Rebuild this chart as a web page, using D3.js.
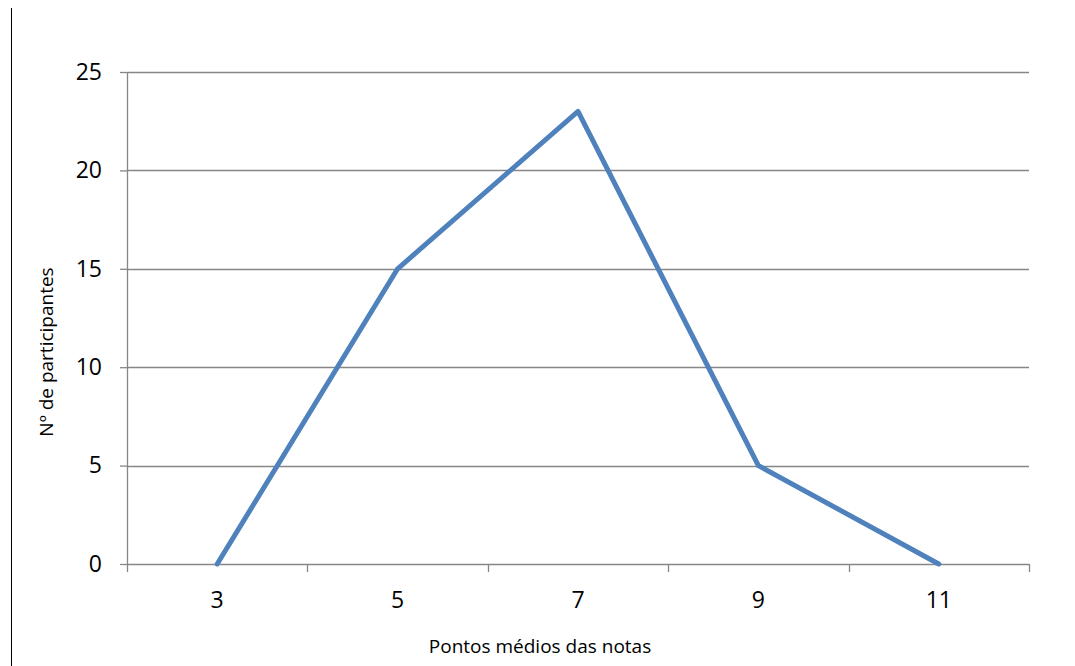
<!DOCTYPE html>
<html>
<head>
<meta charset="utf-8">
<script src="https://cdn.jsdelivr.net/npm/d3@7"></script>
<style>
  html, body { margin: 0; padding: 0; background: #fff; }
  svg { display: block; }
  text { font-family: "Open Sans", "Liberation Sans", sans-serif; fill: #000; }
</style>
</head>
<body>
<div id="chart"></div>
<script>
// Frequency of grade midpoints
const midpoints = ["3", "5", "7", "9", "11"];
const participants = [0, 15, 23, 5, 0];
const yTicks = [0, 5, 10, 15, 20, 25];

const W = 1075, H = 666;
const margin = { left: 127, right: 46, top: 72, bottom: 102 };
const innerW = W - margin.left - margin.right;
const innerH = H - margin.top - margin.bottom;

const svg = d3.select("#chart").append("svg")
  .attr("width", W).attr("height", H);

// Frame line on the left edge
svg.append("line")
  .attr("x1", 11.5).attr("x2", 11.5)
  .attr("y1", 8).attr("y2", H)
  .attr("stroke", "#000").attr("stroke-width", 1);

const g = svg.append("g").attr("transform", `translate(${margin.left},${margin.top})`);

const x = d3.scaleBand().domain(midpoints).range([0, innerW]).paddingInner(0).paddingOuter(0);
const y = d3.scaleLinear().domain([0, 25]).range([innerH, 0]);

const gridColor = "#868686";

// Horizontal gridlines
g.append("g").selectAll("line")
  .data(yTicks.filter(d => d > 0))
  .join("line")
  .attr("x1", 0).attr("x2", innerW)
  .attr("y1", d => Math.round(y(d)) + 0.5).attr("y2", d => Math.round(y(d)) + 0.5)
  .attr("stroke", gridColor).attr("stroke-width", 1.3);

// Y axis
const yAxis = g.append("g")
  .call(d3.axisLeft(y).tickValues(yTicks).tickSize(7).tickPadding(18));
yAxis.select(".domain").attr("stroke", gridColor).attr("stroke-width", 1.3)
  .attr("d", `M0.5,${innerH}V0`);
yAxis.selectAll(".tick line").attr("stroke", gridColor).attr("stroke-width", 1.3);
yAxis.selectAll(".tick text").attr("font-size", 23).attr("font-family", "Open Sans, Liberation Sans, sans-serif").attr("fill", "#000");

// X axis: ticks between categories
const xAxisG = g.append("g").attr("transform", `translate(0,${innerH})`);
xAxisG.append("line")
  .attr("x1", 0).attr("x2", innerW)
  .attr("y1", 0.5).attr("y2", 0.5)
  .attr("stroke", gridColor).attr("stroke-width", 1.3);
const edges = midpoints.map(d => x(d)).concat([innerW]);
xAxisG.selectAll("line.edge")
  .data(edges)
  .join("line")
  .attr("class", "edge")
  .attr("x1", d => Math.round(d) + 0.5).attr("x2", d => Math.round(d) + 0.5)
  .attr("y1", 0).attr("y2", 8)
  .attr("stroke", gridColor).attr("stroke-width", 1.3);
xAxisG.selectAll("text.lab")
  .data(midpoints)
  .join("text")
  .attr("class", "lab")
  .attr("x", d => x(d) + x.bandwidth() / 2)
  .attr("y", 44)
  .attr("text-anchor", "middle")
  .attr("font-size", 23)
  .text(d => d);

// Frequency polygon
const line = d3.line()
  .x((d, i) => x(midpoints[i]) + x.bandwidth() / 2)
  .y(d => y(d));
g.append("path")
  .datum(participants)
  .attr("d", line)
  .attr("fill", "none")
  .attr("stroke", "#4F81BD")
  .attr("stroke-width", 5)
  .attr("stroke-linejoin", "round")
  .attr("stroke-linecap", "round");

// Axis titles
svg.append("text")
  .attr("transform", "translate(53,352) rotate(-90)")
  .attr("text-anchor", "middle")
  .attr("font-size", 19)
  .text("Nº de participantes");

svg.append("text")
  .attr("x", 540)
  .attr("y", 653)
  .attr("text-anchor", "middle")
  .attr("font-size", 19)
  .text("Pontos médios das notas");
</script>
</body>
</html>
